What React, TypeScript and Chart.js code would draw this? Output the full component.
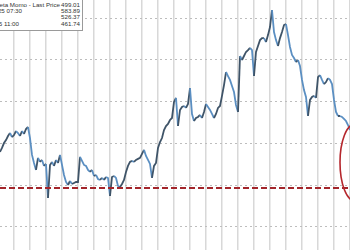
import React, { useEffect, useRef } from "react";
import { Chart, registerables } from "chart.js";

Chart.register(...registerables);

// Intraday bars: 8 bars per trading day
const prices: number[] = [
  494.9, 497.3, 500.2, 502.0, 504.4, 506.2, 503.8, 505.0, 507.4, 506.2,
  504.4, 507.4, 505.6, 508.6, 509.8, 503.2, 493.1, 488.3, 484.1, 491.3,
  488.9, 490.1, 486.5, 487.7, 467.3, 487.1, 488.9, 486.5, 490.1, 488.3,
  493.1, 487.1, 481.1, 476.9, 475.1, 477.5, 475.7, 476.3, 476.9, 476.9,
  491.9, 489.5, 487.1, 486.5, 484.1, 482.9, 484.1, 480.5, 481.1, 478.7,
  478.1, 479.3, 478.1, 479.9, 479.3, 468.5, 479.9, 480.5, 479.3, 474.5,
  473.9, 475.7, 478.1, 482.9, 486.5, 488.9, 489.5, 488.9, 490.1, 490.7,
  491.3, 493.7, 496.1, 492.5, 490.1, 487.7, 479.3, 486.5, 488.3, 497.3,
  500.8, 503.2, 508.0, 510.4, 511.6, 514.0, 515.2, 524.8, 527.2, 510.4,
  520.0, 521.8, 522.4, 521.2, 523.6, 533.1, 517.6, 513.4, 515.2, 515.8,
  517.0, 515.2, 518.8, 523.6, 521.8, 520.0, 517.6, 515.2, 517.6, 521.2,
  522.4, 528.4, 534.9, 542.7, 540.3, 538.0, 534.3, 530.7, 523.0, 518.8,
  552.3, 549.9, 552.3, 554.7, 555.8, 557.1, 555.8, 540.3, 554.7, 558.3,
  561.8, 563.0, 563.0, 560.6, 564.8, 569.6, 579.8, 566.6, 561.8, 558.3,
  563.0, 566.6, 570.8, 571.4, 564.8, 557.7, 552.9, 551.1, 548.7, 549.9,
  546.3, 538.0, 531.9, 527.8, 516.4, 526.0, 527.8, 528.4, 527.2, 539.7,
  540.9, 538.0, 535.5, 536.7, 539.1, 538.0, 535.5, 526.0, 518.8, 516.4,
  516.4, 515.8, 514.6, 513.4, 511.0, 508.0,
];

const supportLevel = 473.3;
const priceGridTicks = [450, 475, 500, 525, 550, 575];
const barsPerDay = 8;
const firstDayBreak = 7;
const yMin = 436.2;
const yMax = 585.8;

// highlighted region (data units)
const circleCenterBar = 177.5;
const circleHalfBars = 7.5;
const circleTop = 509.8;
const circleBottom = 467.3;

const legendLabels = [
  "Goldman Sachs High Beta Momo - Last Price",
  "High on 06/25/25 07:30",
  "Average",
  "Low on 05/27/25 11:00",
];
const legendValues = ["499.01", "583.89", "526.37", "461.74"];
const legendLabelRight = [22, 60, 86, 63];

const circlePlugin = {
  id: "circleMark",
  afterDraw(chart: any) {
    const { ctx, scales } = chart;
    const x = scales.x;
    const y = scales.y;
    const cx = x.getPixelForValue(circleCenterBar);
    const rx = Math.abs(x.getPixelForValue(circleCenterBar + circleHalfBars) - cx);
    const yt = y.getPixelForValue(circleTop);
    const yb = y.getPixelForValue(circleBottom);
    ctx.save();
    ctx.strokeStyle = "#b5272d";
    ctx.lineWidth = 1.6;
    ctx.beginPath();
    ctx.ellipse(cx, (yt + yb) / 2, rx, (yb - yt) / 2 + 3, 0, 0, Math.PI * 2);
    ctx.stroke();
    ctx.restore();
  },
};

export default function App() {
  const ref = useRef<HTMLCanvasElement>(null);

  useEffect(() => {
    document.body.style.margin = "0";
    const labels = prices.map((_, i) => i);
    const chart = new Chart(ref.current!, {
      type: "line",
      data: {
        datasets: [
          {
            data: [
              { x: 0, y: supportLevel },
              { x: prices.length - 1, y: supportLevel },
            ],
            borderColor: "#a3252b",
            borderWidth: 2,
            borderDash: [6, 3],
            pointRadius: 0,
            order: 0,
          },
          {
            data: labels.map((i) => ({ x: i, y: prices[i] })),
            borderColor: "#5a8ab8",
            borderWidth: 1.8,
            pointRadius: 0,
            tension: 0,
            order: 1,
            segment: {
              borderColor: (c: any) =>
                c.p1.parsed.y >= c.p0.parsed.y ? "#3f5468" : "#5b8fc2",
            },
          },
        ],
      },
      options: {
        responsive: false,
        animation: false,
        layout: { padding: 0 },
        plugins: { legend: { display: false }, tooltip: { enabled: false } },
        scales: {
          x: {
            type: "linear",
            min: 0,
            max: prices.length - 1,
            afterBuildTicks: (axis: any) => {
              const t = [];
              for (let v = firstDayBreak; v <= prices.length; v += barsPerDay) t.push({ value: v });
              axis.ticks = t;
            },
            ticks: { display: false },
            border: { display: false },
            grid: { color: "#d8d8d8", lineWidth: 1.5, drawTicks: false },
          },
          y: {
            min: yMin,
            max: yMax,
            afterBuildTicks: (axis: any) => {
              axis.ticks = priceGridTicks.map((v) => ({ value: v }));
            },
            ticks: { display: false },
            border: { display: false, dash: [2, 3] },
            grid: { color: "#bdbdbd", lineWidth: 1, drawTicks: false },
          },
        },
      },
      plugins: [circlePlugin],
    });
    return () => chart.destroy();
  }, []);

  return (
    <div style={{ position: "fixed", left: 0, top: 0, width: 350, height: 250, background: "#fff", overflow: "hidden" }}>
      <canvas ref={ref} width={350} height={250} style={{ display: "block" }} />
      <div
        style={{
          position: "absolute",
          left: -2,
          top: -4,
          width: 85,
          height: 35,
          background: "#fff",
          border: "1px solid #9a9a9a",
          boxSizing: "border-box",
          overflow: "hidden",
          fontFamily: "'Liberation Sans', Arial, sans-serif",
          fontSize: 6.2,
          color: "#333",
        }}
      >
        {legendLabels.map((lab, i) => (
          <React.Fragment key={i}>
            <div
              style={{
                position: "absolute",
                right: legendLabelRight[i],
                top: 4.5 + i * 6.4,
                whiteSpace: "nowrap",
                lineHeight: "6px",
              }}
            >
              {lab}
            </div>
            <div
              style={{
                position: "absolute",
                right: 2,
                top: 4.5 + i * 6.4,
                whiteSpace: "nowrap",
                lineHeight: "6px",
              }}
            >
              {legendValues[i]}
            </div>
          </React.Fragment>
        ))}
      </div>
    </div>
  );
}
